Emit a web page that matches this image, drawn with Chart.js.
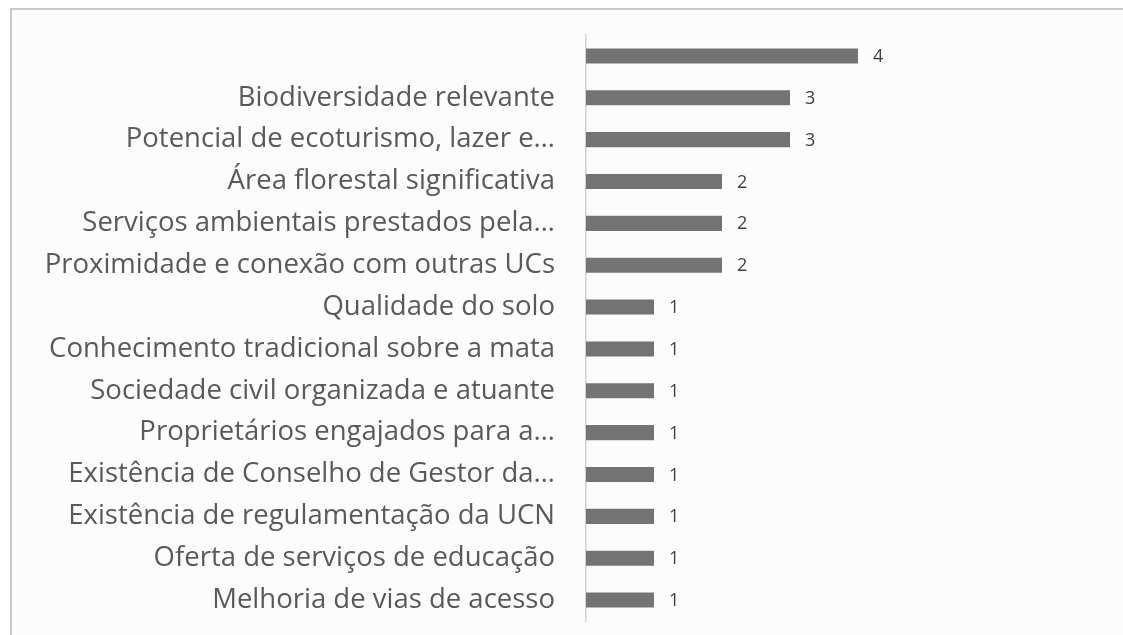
<!DOCTYPE html>
<html>
<head>
<meta charset="utf-8">
<script src="https://cdn.jsdelivr.net/npm/chart.js@4/dist/chart.umd.min.js"></script>
<style>
  html, body { margin: 0; padding: 0; background: #ffffff; overflow: hidden; }
  #wrap { position: relative; width: 1123px; height: 635px; }
  canvas { display: block; }
</style>
</head>
<body>
<div id="wrap"><canvas id="myChart" width="1123" height="635"></canvas></div>
<script>
const categories = [
    '',
    'Biodiversidade relevante',
    'Potencial de ecoturismo, lazer e…',
    'Área florestal significativa',
    'Serviços ambientais prestados pela…',
    'Proximidade e conexão com outras UCs',
    'Qualidade do solo',
    'Conhecimento tradicional sobre a mata',
    'Sociedade civil organizada e atuante',
    'Proprietários engajados para a…',
    'Existência de Conselho de Gestor da…',
    'Existência de regulamentação da UCN',
    'Oferta de serviços de educação',
    'Melhoria de vias de acesso'
];
const counts = [4, 3, 3, 2, 2, 2, 1, 1, 1, 1, 1, 1, 1, 1];

// light panel with a grey frame behind the plot
const framePlugin = {
    id: 'frame',
    beforeDraw(chart) {
        const ctx = chart.ctx;
        ctx.save();
        ctx.fillStyle = '#ffffff';
        ctx.fillRect(0, 0, chart.width, chart.height);
        ctx.fillStyle = '#fcfcfc';
        ctx.fillRect(11, 9, chart.width, chart.height);
        ctx.strokeStyle = '#c9c9c9';
        ctx.lineWidth = 2;
        ctx.strokeRect(11, 9, chart.width + 20, chart.height + 20);
        ctx.restore();
    }
};

// value printed just right of each bar
const valueLabels = {
    id: 'valueLabels',
    afterDatasetsDraw(chart) {
        const ctx = chart.ctx;
        const meta = chart.getDatasetMeta(0);
        ctx.save();
        ctx.font = '18px "Open Sans"';
        ctx.fillStyle = '#404040';
        ctx.textAlign = 'left';
        ctx.textBaseline = 'middle';
        meta.data.forEach((bar, i) => {
            ctx.fillText(String(counts[i]), bar.x + 15, bar.y + 1);
        });
        ctx.restore();
    }
};

const ctx = document.getElementById('myChart').getContext('2d');
const myChart = new Chart(ctx, {
    type: 'bar',
    data: {
        labels: categories,
        datasets: [{
            data: counts,
            backgroundColor: '#737373',
            borderWidth: 0,
            categoryPercentage: 1,
            barPercentage: 0.36
        }]
    },
    plugins: [framePlugin, valueLabels],
    options: {
        indexAxis: 'y',
        responsive: false,
        animation: false,
        layout: {
            padding: { top: 35, bottom: 14, left: 0, right: 197 }
        },
        plugins: {
            legend: { display: false },
            tooltip: { enabled: false }
        },
        scales: {
            x: {
                display: false,
                min: 0,
                max: 5
            },
            y: {
                afterFit(scale) {
                    scale.width = 586;
                    scale.paddingTop = 0;
                    scale.paddingBottom = 0;
                },
                grid: { display: false, drawTicks: false },
                border: { display: true, color: '#d0d0d0', width: 1.5 },
                ticks: {
                    autoSkip: false,
                    padding: 31,
                    color: '#595959',
                    font: { family: '"Open Sans"', size: 27.5 }
                }
            }
        }
    }
});
</script>
</body>
</html>
